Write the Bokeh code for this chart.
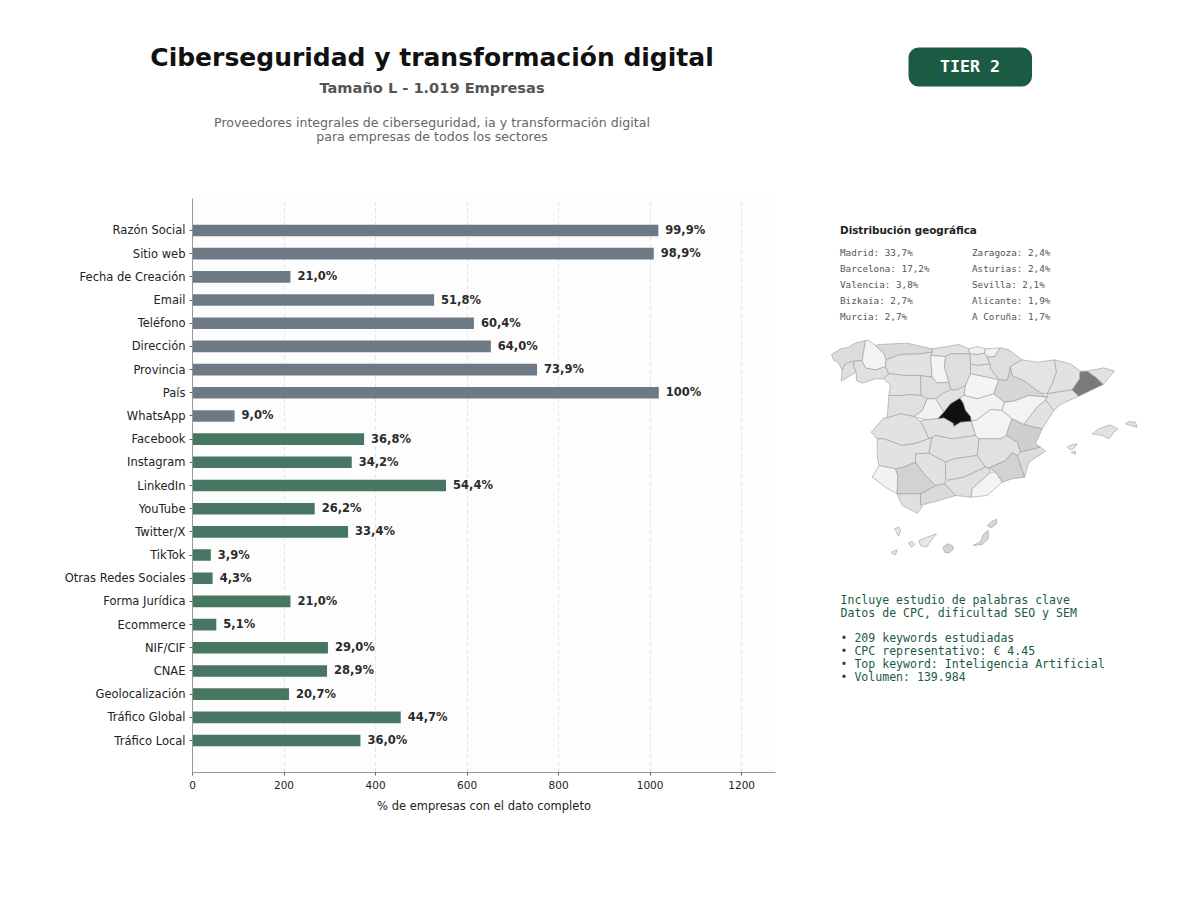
from bokeh.core.properties import value
from bokeh.embed import file_html
from bokeh.layouts import column, row
from bokeh.models import BoxAnnotation, ColumnDataSource, FactorRange, FixedTicker, Range1d
from bokeh.plotting import figure
from bokeh.resources import INLINE

# bar chart data
campos = ["Razón Social", "Sitio web", "Fecha de Creación", "Email", "Teléfono", "Dirección",
          "Provincia", "País", "WhatsApp", "Facebook", "Instagram", "LinkedIn", "YouTube",
          "Twitter/X", "TikTok", "Otras Redes Sociales", "Forma Jurídica", "Ecommerce",
          "NIF/CIF", "CNAE", "Geolocalización", "Tráfico Global", "Tráfico Local"]
empresas = [1018, 1008, 214, 528, 615, 652, 753, 1019, 92, 375, 348, 554, 267, 340, 40, 44,
            214, 52, 296, 294, 211, 455, 367]
porcentajes = ["99,9%", "98,9%", "21,0%", "51,8%", "60,4%", "64,0%", "73,9%", "100%", "9,0%",
               "36,8%", "34,2%", "54,4%", "26,2%", "33,4%", "3,9%", "4,3%", "21,0%", "5,1%",
               "29,0%", "28,9%", "20,7%", "44,7%", "36,0%"]
grupo_gris = 9  # the first nine bars are grey, the rest green
x_ticks = [0, 200, 400, 600, 800, 1000, 1200]

geo_col1 = ["Madrid: 33,7%", "Barcelona: 17,2%", "Valencia: 3,8%", "Bizkaia: 2,7%", "Murcia: 2,7%"]
geo_col2 = ["Zaragoza: 2,4%", "Asturias: 2,4%", "Sevilla: 2,1%", "Alicante: 1,9%", "A Coruña: 1,7%"]
keywords_intro = ["Incluye estudio de palabras clave", "Datos de CPC, dificultad SEO y SEM"]
keywords_items = ["• 209 keywords estudiadas", "• CPC representativo: € 4.45",
                  "• Top keyword: Inteligencia Artificial", "• Volumen: 139.984"]

# map outlines, hand traced, map units
provincias = [
    ("A Coruña", "#dcdcdc", [(33,72),(60,55),(85,50),(103,38),(135,30),(130,60),(125,90),(100,92),(75,100),(65,118),(52,95),(40,90)]),
    ("Pontevedra", "#e0e0e0", [(65,118),(75,100),(100,92),(100,108),(107,125),(90,135),(62,152)]),
    ("Ourense", "#e0e0e0", [(100,108),(100,92),(125,90),(135,112),(165,118),(195,108),(205,130),(190,145),(165,145),(125,158),(108,150),(107,125)]),
    ("Lugo", "#f3f3f3", [(135,30),(145,30),(165,45),(190,68),(197,88),(195,108),(165,118),(135,112),(125,90),(130,60)]),
    ("Asturias", "#dadada", [(165,45),(175,42),(260,38),(335,55),(335,65),(300,70),(240,72),(197,88),(190,68)]),
    ("Cantabria", "#e2e2e2", [(335,55),(380,48),(415,42),(445,55),(448,70),(420,70),(390,70),(375,78),(330,75),(335,65)]),
    ("Bizkaia", "#f0f0f0", [(445,55),(470,48),(495,55),(492,68),(470,72),(448,70)]),
    ("Gipuzkoa", "#f0f0f0", [(492,68),(495,55),(540,52),(522,78),(500,80)]),
    ("Alava", "#e4e4e4", [(448,70),(470,72),(492,68),(500,80),(508,100),(470,105),(450,100)]),
    ("Navarra", "#dedede", [(540,52),(565,58),(605,88),(570,108),(565,135),(560,150),(535,148),(510,115),(508,100),(500,80),(522,78)]),
    ("La Rioja", "#e4e4e4", [(450,100),(470,105),(508,100),(510,115),(535,148),(490,138),(450,130)]),
    ("León", "#e2e2e2", [(197,88),(240,72),(300,70),(335,65),(330,75),(335,140),(300,135),(250,135),(215,130),(205,130),(195,108)]),
    ("Palencia", "#f4f4f4", [(330,75),(375,78),(372,110),(385,155),(350,158),(335,140)]),
    ("Burgos", "#dedede", [(375,78),(390,70),(420,70),(448,70),(450,100),(450,130),(435,165),(410,178),(390,178),(385,155),(372,110)]),
    ("Zamora", "#e2e2e2", [(190,145),(205,130),(215,130),(250,135),(300,135),(302,195),(270,192),(240,195),(205,195),(210,165)]),
    ("Valladolid", "#dedede", [(300,135),(335,140),(350,158),(385,155),(390,178),(365,190),(345,205),(320,205),(302,195)]),
    ("Soria", "#f4f4f4", [(450,130),(490,138),(535,148),(520,190),(470,205),(430,195),(435,165)]),
    ("Segovia", "#e2e2e2", [(345,205),(365,190),(390,178),(410,178),(435,165),(430,195),(418,203),(390,220),(370,245)]),
    ("Ávila", "#f2f2f2", [(320,205),(345,205),(370,245),(352,265),(315,268),(280,258),(305,240)]),
    ("Salamanca", "#e0e0e0", [(205,195),(240,195),(270,192),(302,195),(320,205),(305,240),(280,258),(240,250),(200,262)]),
    ("Guadalajara", "#f2f2f2", [(430,195),(470,205),(520,190),(552,215),(545,240),(510,237),(470,268),(452,272),(450,258),(435,240),(428,218),(418,203)]),
    ("Zaragoza", "#d6d6d6", [(570,108),(575,135),(610,150),(660,187),(680,200),(625,195),(580,212),(552,215),(520,190),(535,148),(560,150),(565,135)]),
    ("Huesca", "#e4e4e4", [(605,88),(650,95),(702,88),(708,125),(695,160),(680,190),(660,187),(610,150),(575,135),(570,108)]),
    ("Lleida", "#e2e2e2", [(702,88),(750,100),(780,122),(778,145),(755,178),(680,190),(695,160),(708,125)]),
    ("Girona", "#e2e2e2", [(780,122),(800,122),(850,112),(882,122),(870,135),(848,162),(825,140)]),
    ("Tarragona", "#e2e2e2", [(680,190),(755,178),(775,197),(720,222),(700,240),(675,208),(680,200)]),
    ("Teruel", "#f3f3f3", [(580,212),(625,195),(680,200),(675,208),(650,230),(625,262),(610,282),(575,265),(545,240),(552,215)]),
    ("Castellón", "#e2e2e2", [(650,230),(675,208),(700,240),(665,295),(640,290),(610,282),(625,262)]),
    ("Cuenca", "#f3f3f3", [(470,268),(510,237),(545,240),(575,265),(565,290),(558,315),(540,325),(475,325),(465,315),(452,272)]),
    ("Valencia", "#cfcfcf", [(575,265),(610,282),(640,290),(665,295),(645,340),(660,350),(600,365),(590,335),(558,315),(565,290)]),
    ("Alicante", "#dcdcdc", [(600,365),(660,350),(675,362),(625,395),(612,440),(590,375)]),
    ("Murcia", "#d2d2d2", [(505,412),(555,390),(575,365),(590,375),(612,440),(575,445),(545,455),(525,425)]),
    ("Albacete", "#e2e2e2", [(475,325),(540,325),(558,315),(590,335),(600,365),(590,375),(575,365),(555,390),(505,412),(495,410),(470,375)]),
    ("Toledo", "#e2e2e2", [(300,272),(315,268),(352,265),(370,262),(398,278),(400,287),(420,275),(452,272),(465,315),(395,325),(345,315),(325,325)]),
    ("Cáceres", "#e2e2e2", [(152,305),(190,262),(200,262),(240,250),(280,258),(300,272),(325,325),(280,340),(245,345),(190,325),(170,325)]),
    ("Badajoz", "#e2e2e2", [(170,335),(170,325),(190,325),(245,345),(280,340),(325,325),(335,322),(325,368),(285,370),(285,395),(250,410),(225,415),(175,405),(170,375)]),
    ("Ciudad Real", "#e2e2e2", [(335,322),(345,315),(395,325),(465,315),(475,325),(470,375),(400,385),(375,395),(325,368)]),
    ("Córdoba", "#e2e2e2", [(285,370),(325,368),(375,395),(375,440),(372,460),(345,465),(310,430),(285,395)]),
    ("Jaén", "#e0e0e0", [(375,395),(400,385),(470,375),(495,410),(430,440),(380,450),(375,440)]),
    ("Granada", "#e0e0e0", [(372,460),(380,450),(430,440),(495,410),(505,412),(510,425),(455,475),(452,500),(405,495)]),
    ("Almería", "#f3f3f3", [(510,425),(525,425),(545,455),(500,495),(452,500),(455,475)]),
    ("Málaga", "#dadada", [(300,490),(345,465),(372,460),(405,495),(355,510),(300,525)]),
    ("Huelva", "#f2f2f2", [(155,440),(175,405),(225,415),(232,435),(230,490),(195,470)]),
    ("Sevilla", "#d2d2d2", [(225,415),(250,410),(285,395),(310,430),(345,465),(300,490),(230,490),(232,435)]),
    ("Cádiz", "#e0e0e0", [(230,490),(300,490),(300,520),(305,530),(290,548),(245,525)]),
    ("Barcelona", "#7a7a7a", [(778,125),(800,122),(825,140),(848,162),(810,180),(775,197),(755,178),(778,145)]),
    ("Madrid", "#111111", [(418,203),(428,218),(435,240),(450,258),(452,272),(420,275),(400,287),(398,278),(370,262),(352,265),(370,245),(390,220)]),
    ("Mallorca", "#e2e2e2", [(815,310),(835,295),(868,283),(892,295),(880,305),(865,325),(845,315)]),
    ("Menorca", "#e2e2e2", [(915,280),(925,273),(945,275),(950,290),(930,285)]),
    ("Ibiza", "#e2e2e2", [(740,350),(755,342),(770,340),(763,350),(755,358),(745,355)]),
    ("Formentera", "#e2e2e2", [(752,365),(765,362),(765,372)]),
    ("La Palma", "#e8e8e8", [(222,595),(235,590),(240,600),(235,617)]),
    ("Tenerife", "#e8e8e8", [(295,630),(320,620),(348,610),(330,632),(318,650),(300,645)]),
    ("La Gomera", "#e8e8e8", [(265,637),(275,633),(283,642),(272,650)]),
    ("El Hierro", "#e8e8e8", [(212,665),(230,658),(225,672),(218,672)]),
    ("Gran Canaria", "#d4d4d4", [(368,650),(380,640),(395,645),(400,655),(385,668),(372,665)]),
    ("Fuerteventura", "#d8d8d8", [(458,645),(478,635),(490,610),(503,600),(503,625),(485,642)]),
    ("Lanzarote", "#d8d8d8", [(500,585),(515,572),(528,566),(528,580),(512,592)]),
]

GRIS = "#64727d"
VERDE = "#3b6f58"
FUENTE = "DejaVu Sans"
MONO = "DejaVu Sans Mono"


def panel(w, h, x0, x1, y0, y1, top=0, bottom=0):
    # figure with no axes, its ranges are page pixels
    f = figure(width=w, height=h, x_range=Range1d(x0, x1), y_range=Range1d(y1, y0),
               x_axis_type=None, y_axis_type=None, toolbar_location=None, output_backend="svg",
               min_border=0, min_border_left=0, min_border_right=0, min_border_top=top, min_border_bottom=bottom)
    f.outline_line_color = None
    f.grid.visible = False
    return f


def texto(f, x, y, t, size, color, font=FUENTE, style="normal", align="left"):
    f.text(x=[x], y=[y], text=[t], text_font=value(font), text_font_size=size, text_color=color,
           text_font_style=style, text_align=align, text_baseline="middle")


# header
head = panel(1192, 190, 0, 1192, 0, 190)
texto(head, 431.5, 57, "Ciberseguridad y transformación digital", "25px", "#111111", style="bold", align="center")
texto(head, 431.5, 86.5, "Tamaño L - 1.019 Empresas", "14.6px", "#555555", style="bold", align="center")
texto(head, 431.5, 121.5, "Proveedores integrales de ciberseguridad, ia y transformación digital", "12.6px", "#666666", align="center")
texto(head, 431.5, 135.5, "para empresas de todos los sectores", "12.6px", "#666666", align="center")
head.add_layout(BoxAnnotation(left=908, right=1031.5, top=47, bottom=86, fill_color="#1b5a43", fill_alpha=1,
                              line_color=None, border_radius=10, level="underlay"))
texto(head, 969.5, 65.5, "TIER 2", "16.6px", "white", font=MONO, style="bold", align="center")

# bars
src = ColumnDataSource(dict(campo=campos, empresas=empresas, pct=porcentajes,
                            color=[GRIS] * grupo_gris + [VERDE] * (len(campos) - grupo_gris)))
p = figure(width=800, height=702, y_range=FactorRange(factors=campos[::-1], range_padding=0.0765),
           x_range=Range1d(0, 1274), toolbar_location=None, output_backend="svg",
           min_border_left=192, min_border_right=25, min_border_top=8, min_border_bottom=120)
p.hbar(y="campo", right="empresas", left=0, height=0.5, fill_color="color", line_color=None, fill_alpha=0.94, source=src)
p.text(x="empresas", y="campo", text="pct", source=src, x_offset=7, y_offset=-0.5, text_baseline="middle",
       text_font=value(FUENTE), text_font_size="11.5px", text_font_style="bold", text_color="#2b2b2b")
p.background_fill_color = "#fdfdfd"
p.outline_line_color = None
p.ygrid.visible = False
p.xgrid.ticker = FixedTicker(ticks=x_ticks)
p.xgrid.grid_line_color = "#dcdcdc"
p.xgrid.grid_line_dash = "4 3"
p.xgrid.grid_line_width = 0.8
p.xaxis.ticker = FixedTicker(ticks=x_ticks)
p.xaxis.axis_label = "% de empresas con el dato completo"
p.xaxis.axis_label_text_font = FUENTE
p.xaxis.axis_label_text_font_size = "11.5px"
p.xaxis.axis_label_text_font_style = "normal"
p.xaxis.axis_label_text_color = "#222222"
p.xaxis.axis_label_standoff = 7
for ax in [p.xaxis, p.yaxis]:
    ax.axis_line_color = "#999999"
    ax.major_tick_line_color = "#666666"
    ax.major_tick_in = 0
    ax.major_tick_out = 3
    ax.minor_tick_line_color = None
    ax.major_label_text_font = FUENTE
    ax.major_label_text_color = "#222222"
p.xaxis.major_label_text_font_size = "10.5px"
p.yaxis.major_label_text_font_size = "11.5px"
p.yaxis.major_label_standoff = 4

# right column, row() lines its frame up with the bars so the y range is that frame's span
der = panel(392, 702, 800, 1192, 198, 772, top=8, bottom=120)
der.extra_x_ranges["mapa"] = Range1d(-60, 1116)
der.extra_y_ranges["mapa"] = Range1d(1326, -396)
texto(der, 839.5, 229.5, "Distribución geográfica", "10.4px", "#222222", style="bold")
for i, t in enumerate(geo_col1):
    texto(der, 839.5, 252 + i * 16, t, "9.3px", "#555555", font=MONO)
for i, t in enumerate(geo_col2):
    texto(der, 971.5, 252 + i * 16, t, "9.3px", "#555555", font=MONO)
der.patches(xs=[[c[0] for c in q[2]] for q in provincias], ys=[[c[1] for c in q[2]] for q in provincias],
            fill_color=[q[1] for q in provincias], line_color="#9a9a9a", line_width=0.6,
            x_range_name="mapa", y_range_name="mapa")
for i, t in enumerate(keywords_intro):
    texto(der, 840, 599.5 + i * 13, t, "11.56px", "#1b5a43", font=MONO)
for i, t in enumerate(keywords_items):
    texto(der, 840, 637.5 + i * 13, t, "11.56px", "#1b5a43", font=MONO)

layout = column(head, row(p, der, spacing=0), spacing=0)
open("out.html", "w").write(file_html(layout, INLINE))
